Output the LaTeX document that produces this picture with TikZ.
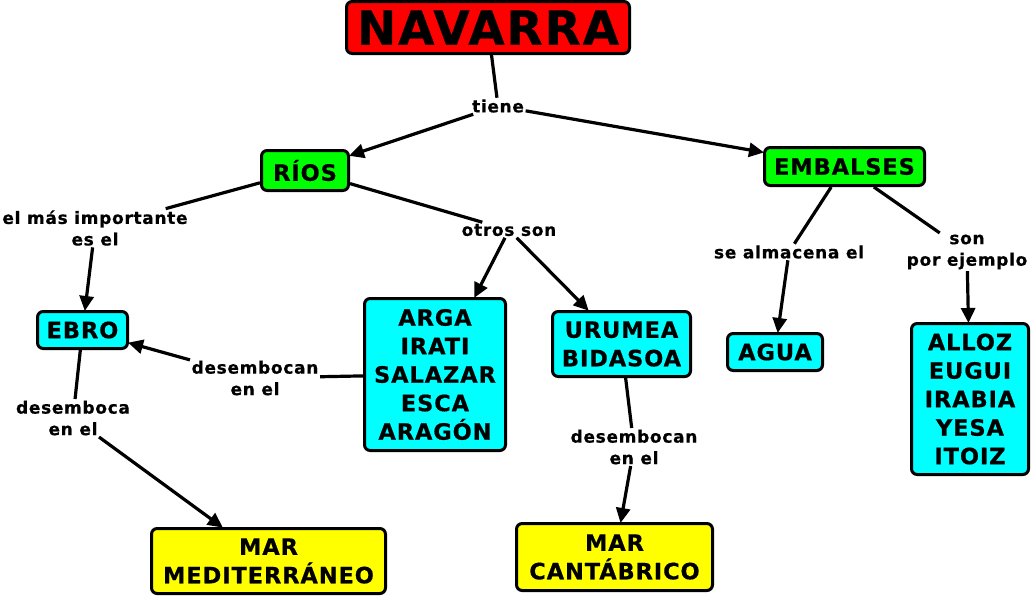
\documentclass[tikz,border=0pt]{standalone}
\usepackage{fontspec}
\setmainfont{DejaVu Sans}[BoldFeatures={FakeBold=0.5,LetterSpace=4}]
\usetikzlibrary{arrows.meta,positioning}
\definecolor{MapRed}{RGB}{255,0,0}
\definecolor{MapGreen}{RGB}{0,255,0}
\definecolor{MapCyan}{RGB}{0,255,255}
\definecolor{MapYellow}{RGB}{255,255,0}
\tikzset{
  cbox/.style={
    draw=black,
    line width=3pt,
    rounded corners=2mm,
    align=center,
    font=\fontsize{22.5}{28.5}\selectfont\bfseries,
    inner sep=0pt
  },
  titlebox/.style={cbox,fill=MapRed,font=\fontsize{47}{50}\selectfont\bfseries},
  groupbox/.style={cbox,fill=MapGreen},
  riverbox/.style={cbox,fill=MapCyan},
  seabox/.style={cbox,fill=MapYellow},
  linklabel/.style={font=\fontsize{17}{21.5}\selectfont\bfseries,align=center,inner sep=1.5pt},
  linkline/.style={line width=3.2pt,draw=black},
  linkarrow/.style={-{Triangle[length=15pt,width=14pt]},line width=3.2pt,draw=black,shorten >=-1pt}
}
\begin{document}
\begin{tikzpicture}[x=1pt,y=-1pt]
  \useasboundingbox (0,0) rectangle (1033,598);

  % concepts
  \node[titlebox, minimum width=283pt, minimum height=52pt] (navarra) at (488,27.5) {NAVARRA};
  \node[groupbox, minimum width=87pt, minimum height=40pt] (rios) at (305,170.5) {RÍOS};
  \node[groupbox, minimum width=160pt, minimum height=38pt] (embalses) at (844.5,166.5) {EMBALSES};
  \node[riverbox, minimum width=90pt, minimum height=37pt] (ebro) at (82.5,330) {EBRO};
  \node[riverbox, minimum width=141pt, minimum height=152pt] (arga) at (435,374.5) {ARGA\\IRATI\\SALAZAR\\ESCA\\ARAGÓN};
  \node[riverbox, minimum width=138pt, minimum height=65pt] (urumea) at (621.5,344) {URUMEA\\BIDASOA};
  \node[riverbox, minimum width=95pt, minimum height=37pt] (agua) at (775,352) {AGUA};
  \node[riverbox, minimum width=117pt, minimum height=151pt] (alloz) at (970,399) {ALLOZ\\EUGUI\\IRABIA\\YESA\\ITOIZ};
  \node[seabox, minimum width=234pt, minimum height=65pt] (medit) at (268.5,561) {MAR\\MEDITERRÁNEO};
  \node[seabox, minimum width=196pt, minimum height=67pt] (cantab) at (614.5,557) {MAR\\CANTÁBRICO};

  % linking phrases
  \node[linklabel] (tiene) at (498,106) {tiene};
  \node[linklabel] (masimp) at (95,228) {el más importante\\es el};
  \node[linklabel] (otros) at (509,230) {otros son};
  \node[linklabel] (almacena) at (789,252) {se almacena el};
  \node[linklabel] (ejemplo) at (967,252) {son\\por ejemplo};
  \node[linklabel] (desarga) at (255,378) {desembocan\\en el};
  \node[linklabel] (desebro) at (73,418) {desemboca\\en el};
  \node[linklabel] (desurumea) at (634,447) {desembocan\\en el};

  % connectors
  \draw[linkline] (navarra) -- (tiene);
  \draw[linkarrow] (tiene) -- (rios);
  \draw[linkarrow] (tiene) -- (embalses);
  \draw[linkline] (rios) -- (masimp);
  \draw[linkarrow] (masimp) -- (ebro);
  \draw[linkline] (rios) -- (otros);
  \draw[linkarrow] (otros) -- (arga);
  \draw[linkarrow] (otros) -- (urumea);
  \draw[linkline] (embalses) -- (almacena);
  \draw[linkarrow] (almacena) -- (agua);
  \draw[linkline] (embalses) -- (ejemplo);
  \draw[linkarrow] (ejemplo) -- (alloz);
  \draw[linkline] (arga) -- (desarga);
  \draw[linkarrow] (desarga) -- (ebro);
  \draw[linkline] (ebro) -- (desebro);
  \draw[linkarrow] (desebro) -- (medit);
  \draw[linkline] (urumea) -- (desurumea);
  \draw[linkarrow] (desurumea) -- (cantab);
\end{tikzpicture}
\end{document}
